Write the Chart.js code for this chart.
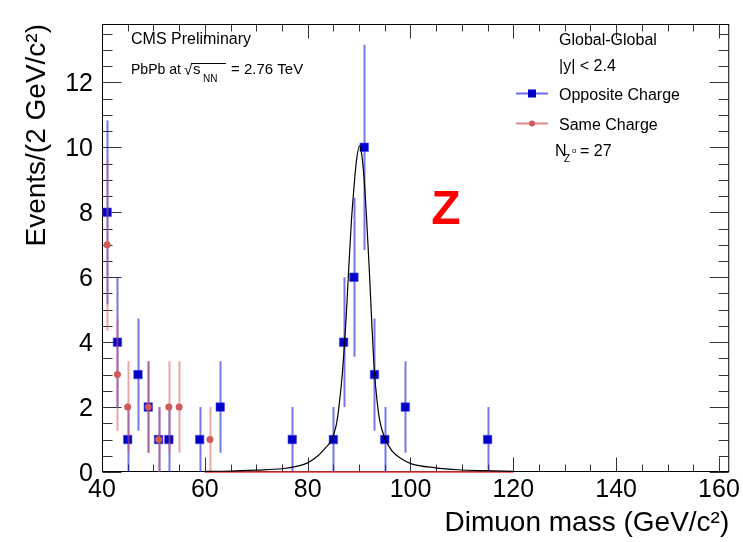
<!DOCTYPE html>
<html>
<head>
<meta charset="utf-8">
<script src="https://cdn.jsdelivr.net/npm/chart.js@4.4.1/dist/chart.umd.min.js"></script>
<style>
  html, body { margin: 0; padding: 0; background: #fff; }
</style>
</head>
<body>
<canvas id="c" width="743" height="542"></canvas>
<script>
// 2 GeV bins, centres in GeV/c^2
const oppMass   = [41, 43, 45, 47, 49, 51, 53, 59, 63, 77, 85, 87, 89, 91, 93, 95, 99, 115];
const oppCounts = [8, 4, 1, 3, 2, 1, 1, 1, 2, 1, 1, 4, 6, 10, 3, 1, 2, 1];
const oppErr    = [2.83, 2, 1, 1.73, 1.41, 1, 1, 1, 1.41, 1, 1, 2, 2.45, 3.16, 1.73, 1, 1.41, 1];

const sameMass   = [41, 43, 45, 49, 51, 53, 55, 61];
const sameCounts = [7, 3, 2, 2, 1, 2, 2, 1];
const sameErr    = [2.65, 1.73, 1.41, 1.41, 1, 1.41, 1.41, 1];

// fit curve
const fitMass   = [60, 65, 70, 75, 78, 80, 82, 83.5, 84.5, 85.5, 86, 86.7, 87.5, 88, 88.5, 89, 89.5, 90.1,
                   90.5, 91, 91.5, 92, 92.5, 93, 93.5, 94, 95, 96.4, 98.3, 100.2, 104.8, 109.3, 114.5, 120];
const fitValues = [0.02, 0.03, 0.06, 0.1, 0.18, 0.28, 0.5, 0.75, 0.95, 1.4, 1.9, 2.95, 4.8, 6.3, 7.7, 8.75, 9.6, 10.05,
                   9.8, 9.0, 7.7, 6.2, 4.5, 3.05, 2.2, 1.6, 1.05, 0.65, 0.4, 0.25, 0.13, 0.07, 0.04, 0.02];

// same-charge fit (flat at zero)
const sameFitMass   = [60, 120];
const sameFitValues = [0, 0];

const xTicks = [40, 60, 80, 100, 120, 140, 160];
const yTicks = [0, 2, 4, 6, 8, 10, 12];

const SANS = '"Liberation Sans", Arial, sans-serif';

const pts = (xs, ys) => xs.map((x, i) => ({ x: x, y: ys[i] }));

// vertical error bars, drawn just before the dataset's markers
const errorBars = {
  id: 'errorBars',
  beforeDatasetDraw(chart, args) {
    const ds = chart.data.datasets[args.index];
    if (!ds.yErr) return;
    const { ctx, chartArea: a, scales: { x, y } } = chart;
    ctx.save();
    ctx.beginPath();
    ctx.rect(a.left, a.top, a.right - a.left, a.bottom - a.top);
    ctx.clip();
    ctx.strokeStyle = ds.errColor;
    ctx.lineWidth = ds.errWidth;
    ds.data.forEach((p, i) => {
      const px = Math.round(x.getPixelForValue(p.x)) + 0.5;
      ctx.beginPath();
      ctx.moveTo(px, y.getPixelForValue(p.y - ds.yErr[i]));
      ctx.lineTo(px, y.getPixelForValue(p.y + ds.yErr[i]));
      ctx.stroke();
    });
    ctx.restore();
  }
};

// ROOT-like frame with inner ticks on all four sides
const frame = {
  id: 'frame',
  beforeDatasetsDraw(chart) {
    const { ctx, chartArea: a, scales: { x, y } } = chart;
    const L = a.left + 0.5, R = a.right - 0.5, T = a.top + 0.5, B = a.bottom - 0.5;
    ctx.save();
    ctx.strokeStyle = '#333';
    ctx.lineWidth = 1;
    ctx.beginPath();
    for (let v = 40; v <= 162; v += 5) {
      const px = Math.round(x.getPixelForValue(v)) + 0.5;
      const len = (v % 20 === 0) ? 14 : 7;
      ctx.moveTo(px, B); ctx.lineTo(px, B - len);
      ctx.moveTo(px, T); ctx.lineTo(px, T + len);
    }
    for (let v = 0; v <= 13.8; v += 0.5) {
      const py = Math.round(y.getPixelForValue(v)) + 0.5;
      const len = (v % 2 === 0) ? 19 : 10;
      ctx.moveTo(L, py); ctx.lineTo(L + len, py);
      ctx.moveTo(R, py); ctx.lineTo(R - len, py);
    }
    ctx.stroke();
    ctx.strokeStyle = '#000';
    ctx.strokeRect(L, T, R - L, B - T);
    ctx.restore();
  }
};

// annotations and hand-made legend
const labels = {
  id: 'labels',
  afterDraw(chart) {
    const ctx = chart.ctx;
    ctx.save();
    ctx.fillStyle = '#000';
    ctx.textBaseline = 'alphabetic';
    ctx.textAlign = 'left';
    ctx.font = '16px ' + SANS;
    ctx.fillText('CMS Preliminary', 131, 43.5);
    ctx.font = '15px ' + SANS;
    ctx.fillText('PbPb at', 131, 74, 50);
    ctx.fillText('\u221A', 184, 75);
    ctx.fillText('s', 193, 74);
    ctx.fillText('= 2.76 TeV', 231, 74);
    ctx.font = '10px ' + SANS;
    ctx.fillText('NN', 203, 82);
    ctx.strokeStyle = '#000';
    ctx.lineWidth = 1;
    ctx.beginPath();
    ctx.moveTo(191, 63.5); ctx.lineTo(226, 63.5);
    ctx.stroke();

    ctx.font = '16px ' + SANS;
    ctx.fillText('Global-Global', 559, 45);
    ctx.fillText('|y| < 2.4', 559, 70.5);
    ctx.fillText('Opposite Charge', 559, 100);
    ctx.fillText('Same Charge', 559, 129.5);
    ctx.fillText('N', 555, 156);
    ctx.fillText('= 27', 580, 156);
    ctx.font = '10px ' + SANS;
    ctx.fillText('Z', 564, 162);
    ctx.font = '8px ' + SANS;
    ctx.fillText('o', 572, 153);

    // legend symbols
    ctx.lineWidth = 2;
    ctx.strokeStyle = 'rgba(60,60,230,0.75)';
    ctx.beginPath(); ctx.moveTo(516, 93.5); ctx.lineTo(548, 93.5); ctx.stroke();
    ctx.fillStyle = '#0000c8';
    ctx.fillRect(528, 89.5, 8, 8);
    ctx.strokeStyle = 'rgba(215,95,95,0.75)';
    ctx.beginPath(); ctx.moveTo(516, 123.5); ctx.lineTo(548, 123.5); ctx.stroke();
    ctx.fillStyle = '#d05a5a';
    ctx.beginPath(); ctx.arc(532, 123.5, 3, 0, Math.PI * 2); ctx.fill();

    ctx.fillStyle = '#ff0000';
    ctx.textAlign = 'center';
    ctx.font = 'bold 48px ' + SANS;
    ctx.fillText('Z', 446, 223.5);
    ctx.restore();
  }
};

new Chart(document.getElementById('c'), {
  type: 'scatter',
  data: {
    datasets: [
      {
        label: 'Opposite Charge',
        data: pts(oppMass, oppCounts),
        yErr: oppErr,
        errColor: 'rgba(30,30,220,0.6)',
        errWidth: 2,
        pointStyle: 'rect',
        pointRadius: 6,
        pointBackgroundColor: '#0000c8',
        pointBorderColor: 'rgba(70,70,235,0.6)',
        pointBorderWidth: 1,
        order: 3
      },
      {
        label: 'Same Charge',
        data: pts(sameMass, sameCounts),
        yErr: sameErr,
        errColor: 'rgba(215,95,95,0.55)',
        errWidth: 2,
        pointStyle: 'circle',
        pointRadius: 3.5,
        pointBackgroundColor: '#d05a5a',
        pointBorderColor: '#d05a5a',
        pointBorderWidth: 0,
        order: 2
      },
      {
        label: 'Same Charge fit',
        type: 'line',
        data: pts(sameFitMass, sameFitValues),
        borderColor: '#e03a3a',
        borderWidth: 1.5,
        pointRadius: 0,
        clip: false,
        order: 1
      },
      {
        label: 'Fit',
        type: 'line',
        data: pts(fitMass, fitValues),
        borderColor: '#000',
        borderWidth: 1.2,
        pointRadius: 0,
        cubicInterpolationMode: 'monotone',
        order: 0
      }
    ]
  },
  options: {
    responsive: false,
    animation: false,
    devicePixelRatio: 1,
    layout: { padding: { left: 0, right: 11, top: 11, bottom: 0 } },
    plugins: {
      legend: { display: false },
      tooltip: { enabled: false }
    },
    scales: {
      x: {
        type: 'linear',
        min: 40,
        max: 162,
        grid: { display: false, drawTicks: false },
        border: { display: false },
        afterFit: s => { s.height = 70; },
        afterBuildTicks: s => { s.ticks = xTicks.map(v => ({ value: v })); },
        ticks: {
          autoSkip: false,
          maxRotation: 0,
          padding: 3,
          color: '#000',
          font: { family: SANS, size: 25 }
        },
        title: {
          display: true,
          text: 'Dimuon mass (GeV/c\u00B2)',
          align: 'end',
          color: '#000',
          font: { family: SANS, size: 28, lineHeight: 1 },
          padding: { top: 0, bottom: 5 }
        }
      },
      y: {
        type: 'linear',
        min: 0,
        max: 13.8,
        grid: { display: false, drawTicks: false },
        border: { display: false },
        afterFit: s => { s.width = 102; },
        afterBuildTicks: s => { s.ticks = yTicks.map(v => ({ value: v })); },
        ticks: {
          autoSkip: false,
          padding: 9,
          labelOffset: 2,
          color: '#000',
          font: { family: SANS, size: 25 }
        },
        title: {
          display: true,
          text: 'Events/(2 GeV/c\u00B2)',
          align: 'end',
          color: '#000',
          font: { family: SANS, size: 28 },
          padding: { top: 20, bottom: 0 }
        }
      }
    }
  },
  plugins: [errorBars, frame, labels]
});
</script>
</body>
</html>
